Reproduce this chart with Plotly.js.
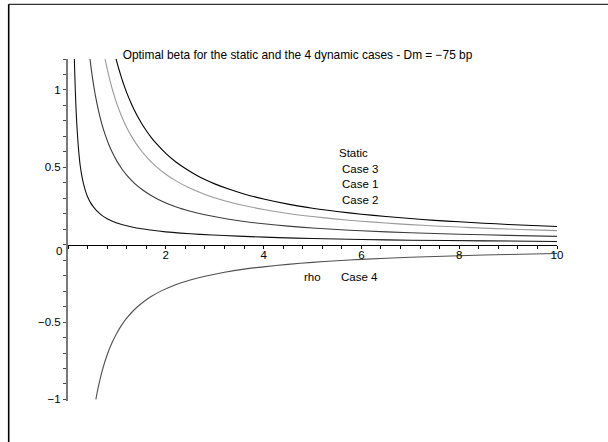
<!DOCTYPE html>
<html>
<head>
<meta charset="utf-8">
<script src="https://cdn.plot.ly/plotly-3.0.1.min.js"></script>
<style>html,body{margin:0;padding:0;background:#fff;}#chart{width:608px;height:442px;}</style>
</head>
<body>
<div id="chart"></div>
<script>
// Data
var staticX = [0.98, 1.0, 1.05, 1.1, 1.15, 1.2, 1.3, 1.4, 1.5, 1.6, 1.7, 1.8, 2, 2.2, 2.4, 2.6, 2.8, 3, 3.3, 3.6, 4, 4.5, 5, 5.5, 6, 6.5, 7, 7.5, 8, 8.5, 9, 9.5, 10];
var staticY = [1.204, 1.18, 1.124, 1.073, 1.026, 0.983, 0.908, 0.843, 0.787, 0.738, 0.694, 0.656, 0.59, 0.536, 0.492, 0.454, 0.421, 0.393, 0.358, 0.328, 0.295, 0.262, 0.236, 0.215, 0.197, 0.182, 0.169, 0.157, 0.148, 0.139, 0.131, 0.124, 0.118];

var case3X = [0.75, 0.8, 0.85, 0.9, 0.95, 1, 1.1, 1.2, 1.3, 1.4, 1.5, 1.65, 1.8, 2, 2.2, 2.5, 2.8, 3.2, 3.6, 4, 4.5, 5, 5.5, 6, 6.5, 7, 7.5, 8, 8.5, 9, 9.5, 10];
var case3Y = [1.213, 1.138, 1.071, 1.011, 0.958, 0.91, 0.827, 0.758, 0.7, 0.65, 0.607, 0.552, 0.506, 0.455, 0.414, 0.364, 0.325, 0.284, 0.253, 0.228, 0.202, 0.182, 0.165, 0.152, 0.14, 0.13, 0.121, 0.114, 0.107, 0.101, 0.096, 0.091];

var case1X = [0.45, 0.48, 0.52, 0.56, 0.6, 0.65, 0.7, 0.76, 0.83, 0.9, 1, 1.1, 1.2, 1.35, 1.5, 1.7, 1.9, 2.2, 2.5, 2.8, 3.2, 3.6, 4, 4.5, 5, 5.5, 6, 7, 8, 9, 10];
var case1Y = [1.2, 1.125, 1.038, 0.964, 0.9, 0.831, 0.771, 0.711, 0.651, 0.6, 0.54, 0.491, 0.45, 0.4, 0.36, 0.318, 0.284, 0.245, 0.216, 0.193, 0.169, 0.15, 0.135, 0.12, 0.108, 0.098, 0.09, 0.077, 0.068, 0.06, 0.054];

var case2X = [0.13, 0.137, 0.145, 0.155, 0.167, 0.18, 0.2, 0.22, 0.25, 0.28, 0.32, 0.36, 0.4, 0.46, 0.52, 0.6, 0.7, 0.8, 0.92, 1.05, 1.2, 1.4, 1.68, 2, 2.3, 2.7, 3.2, 3.73, 4.3, 5, 6, 7, 8.5, 10];
var case2Y = [1.2, 1.12, 1.04, 0.95, 0.86, 0.78, 0.68, 0.6, 0.51, 0.45, 0.39, 0.345, 0.31, 0.272, 0.245, 0.215, 0.188, 0.168, 0.15, 0.135, 0.122, 0.108, 0.095, 0.083, 0.075, 0.067, 0.059, 0.052, 0.046, 0.04, 0.034, 0.029, 0.025, 0.021];

var case4X = [0.57, 0.6, 0.64, 0.68, 0.72, 0.77, 0.83, 0.9, 1, 1.1, 1.2, 1.35, 1.5, 1.7, 1.9, 2.2, 2.5, 2.8, 3.2, 3.6, 4, 4.5, 5, 5.5, 6, 7, 8, 9, 10];
var case4Y = [-1.0, -0.95, -0.891, -0.838, -0.792, -0.74, -0.687, -0.633, -0.57, -0.518, -0.475, -0.422, -0.38, -0.335, -0.3, -0.259, -0.228, -0.204, -0.178, -0.158, -0.143, -0.127, -0.114, -0.104, -0.095, -0.081, -0.071, -0.063, -0.057];

var xTickVals = [2, 4, 6, 8, 10];
var xTickText = ['2', '4', '6', '8', '10'];
var yTickVals = [-1, -0.5, 0.5, 1];
var yTickText = ['\u22121', '\u22120.5', '0.5', '1'];

var labelNames = ['Static', 'Case 3', 'Case 1', 'Case 2', 'Case 4', 'rho'];
var labelX = [5.83, 5.98, 5.98, 5.98, 5.97, 4.99];
var labelY = [0.595, 0.491, 0.394, 0.291, -0.21, -0.21];

var FONT = 'Liberation Sans, Arial, Helvetica, sans-serif';

function tr(x, y, color) {
  return {x: x, y: y, type: 'scatter', mode: 'lines',
    line: {color: color, width: 1.1, shape: 'spline', smoothing: 0.6},
    hoverinfo: 'skip', showlegend: false};
}

var data = [
  tr(staticX, staticY, '#000000'),
  tr(case3X, case3Y, '#9a9a9a'),
  tr(case1X, case1Y, '#3c3c3c'),
  tr(case2X, case2Y, '#111111'),
  tr(case4X, case4Y, '#505050')
];

var yMin = -1.01, yMax = 1.2;

var annotations = labelNames.map(function (t, i) {
  return {x: labelX[i], y: labelY[i], xref: 'x', yref: 'y', text: t, showarrow: false,
    font: {family: FONT, size: 11.5, color: '#000'}, xanchor: 'center', yanchor: 'middle'};
});
annotations.push({x: 0, y: 0, xref: 'x', yref: 'y', text: '0', showarrow: false,
  font: {family: FONT, size: 11.5, color: '#000'}, xanchor: 'right', yanchor: 'middle', xshift: -4, yshift: -6});

var layout = {
  width: 608, height: 442,
  margin: {l: 68, r: 51, t: 59, b: 41},
  paper_bgcolor: '#fff', plot_bgcolor: '#fff',
  font: {family: FONT, size: 11.5, color: '#000'},
  title: {text: 'Optimal beta for the static and the 4 dynamic cases - Dm = \u221275 bp',
    xref: 'container', yref: 'container', x: 297.5 / 608, y: 1 - 55 / 442,
    xanchor: 'center', yanchor: 'middle', font: {family: FONT, size: 11.9, color: '#000'}},
  xaxis: {range: [0, 10], anchor: 'free', position: (0 - yMin) / (yMax - yMin),
    showgrid: false, zeroline: false, showline: true, linecolor: '#000', linewidth: 1,
    tickmode: 'array', tickvals: xTickVals, ticktext: xTickText,
    ticks: 'outside', ticklen: 3, tickcolor: '#000', tickwidth: 1, ticklabelstandoff: -4,
    minor: {tickmode: 'linear', tick0: 0, dtick: 0.4, ticks: 'outside', ticklen: 3, tickcolor: '#000', tickwidth: 1},
    tickfont: {family: FONT, size: 11.5, color: '#000'}, fixedrange: true},
  yaxis: {range: [yMin, yMax], domain: [0, 1],
    showgrid: false, zeroline: false, showline: true, linecolor: '#7a7a7a', linewidth: 2,
    tickmode: 'array', tickvals: yTickVals, ticktext: yTickText,
    ticks: 'outside', ticklen: 3, tickcolor: '#444', tickwidth: 1,
    minor: {tickmode: 'linear', tick0: 0, dtick: 0.1, ticks: 'outside', ticklen: 3, tickcolor: '#444', tickwidth: 1},
    tickfont: {family: FONT, size: 11.5, color: '#000'}, fixedrange: true},
  annotations: annotations,
  shapes: [
    {type: 'line', xref: 'paper', yref: 'paper', x0: (8.7 - 68) / 489, x1: (608 - 68) / 489,
      y0: (401 - 4.3) / 342, y1: (401 - 4.3) / 342, line: {color: '#333', width: 1.3}},
    {type: 'line', xref: 'paper', yref: 'paper', x0: (8.7 - 68) / 489, x1: (8.7 - 68) / 489,
      y0: (401 - 4.3) / 342, y1: (401 - 442) / 342, line: {color: '#000', width: 1.6}}
  ],
  showlegend: false
};

Plotly.newPlot('chart', data, layout, {staticPlot: true, displayModeBar: false});
</script>
</body>
</html>
